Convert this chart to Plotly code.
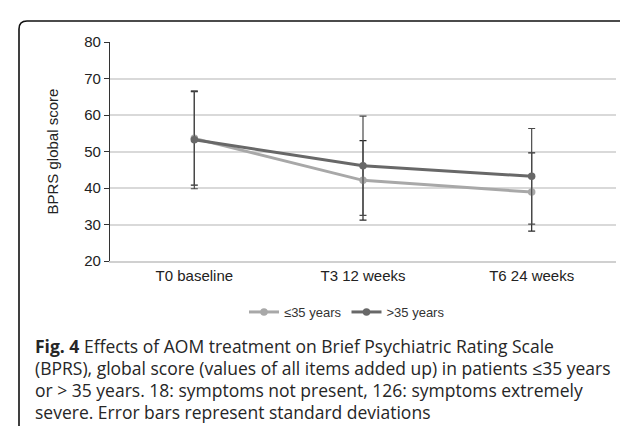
import plotly.graph_objects as go

categories = ["T0 baseline", "T3 12 weeks", "T6 24 weeks"]
young_mean = [53.6, 42.1, 38.9]
young_sd = [12.8, 10.9, 10.7]
old_mean = [53.2, 46.1, 43.2]
old_sd = [13.4, 13.6, 13.1]
series_names = ["≤35 years", ">35 years"]
y_ticks = [20, 30, 40, 50, 60, 70, 80]
y_title = "BPRS global score"
caption_lines = [
    "<b>Fig. 4</b> Effects of AOM treatment on Brief Psychiatric Rating Scale",
    "(BPRS), global score (values of all items added up) in patients ≤35 years",
    "or > 35 years. 18: symptoms not present, 126: symptoms extremely",
    "severe. Error bars represent standard deviations",
]

W, H = 628, 426
L, R, T, B = 102, 20, 34, 173
pw, ph = W - L - R, H - T - B


def px_x(px):
    return (px - L) / pw


def px_y(py):
    return (H - B - py) / ph


fig = go.Figure()
fig.add_trace(go.Scatter(
    x=categories, y=young_mean, name=series_names[0], mode="lines+markers",
    line=dict(color="#a8a8a8", width=3),
    marker=dict(color="#a8a8a8", size=7.5),
    error_y=dict(type="data", array=young_sd, visible=True, color="#2a2a2a", thickness=1.2, width=3.5),
))
fig.add_trace(go.Scatter(
    x=categories, y=old_mean, name=series_names[1], mode="lines+markers",
    line=dict(color="#686868", width=3),
    marker=dict(color="#686868", size=7.5),
    error_y=dict(type="data", array=old_sd, visible=True, color="#4a4a4a", thickness=1.2, width=3.5),
))

# rounded frame
xl, xr = px_x(11), px_x(626)
yt, yb = px_y(13), px_y(440)
rx, ry = 8 / pw, 8 / ph
path = (f"M {xl},{yb} L {xl},{yt - ry} Q {xl},{yt} {xl + rx},{yt} "
        f"L {xr - rx},{yt} Q {xr},{yt} {xr},{yt - ry} L {xr},{yb}")
fig.add_shape(type="path", path=path, xref="paper", yref="paper",
              line=dict(color="#111111", width=1.6))

for i, line in enumerate(caption_lines):
    fig.add_annotation(
        text=line, xref="paper", yref="paper", x=px_x(25), y=px_y(338 + 22 * i),
        xanchor="left", yanchor="middle", showarrow=False, align="left",
        font=dict(family="Open Sans", size=17.5, color="#262626"),
    )

fig.add_annotation(
    text=y_title, xref="paper", yref="paper", x=px_x(44), y=0.5,
    xanchor="center", yanchor="middle", showarrow=False, textangle=-90,
    font=dict(family="Liberation Sans, Arial", size=15, color="#222222"),
)

fig.update_layout(
    width=W, height=H,
    margin=dict(l=L, r=R, t=T, b=B),
    paper_bgcolor="white", plot_bgcolor="white",
    font=dict(family="Liberation Sans, Arial", color="#222222"),
    showlegend=True,
    legend=dict(orientation="h", x=px_x(236), xanchor="left", y=px_y(304), yanchor="middle",
                font=dict(size=13, color="#333333"), itemwidth=30, bgcolor="rgba(0,0,0,0)"),
    xaxis=dict(
        type="category", range=[-0.5, 2.5], showgrid=False, showline=True,
        linecolor="#d0d0d0", linewidth=1.5, ticks="", tickfont=dict(size=15, color="#222"),
        zeroline=False,
    ),
    yaxis=dict(
        range=[20, 80], tickvals=y_ticks, showgrid=True, gridcolor="#d9d9d9", gridwidth=1.5,
        showline=True, linecolor="#333333", linewidth=1.2, ticks="outside", ticklen=5,
        tickcolor="#333333", tickfont=dict(size=15, color="#222"), zeroline=False,
    ),
)

fig.write_html("out.html")
